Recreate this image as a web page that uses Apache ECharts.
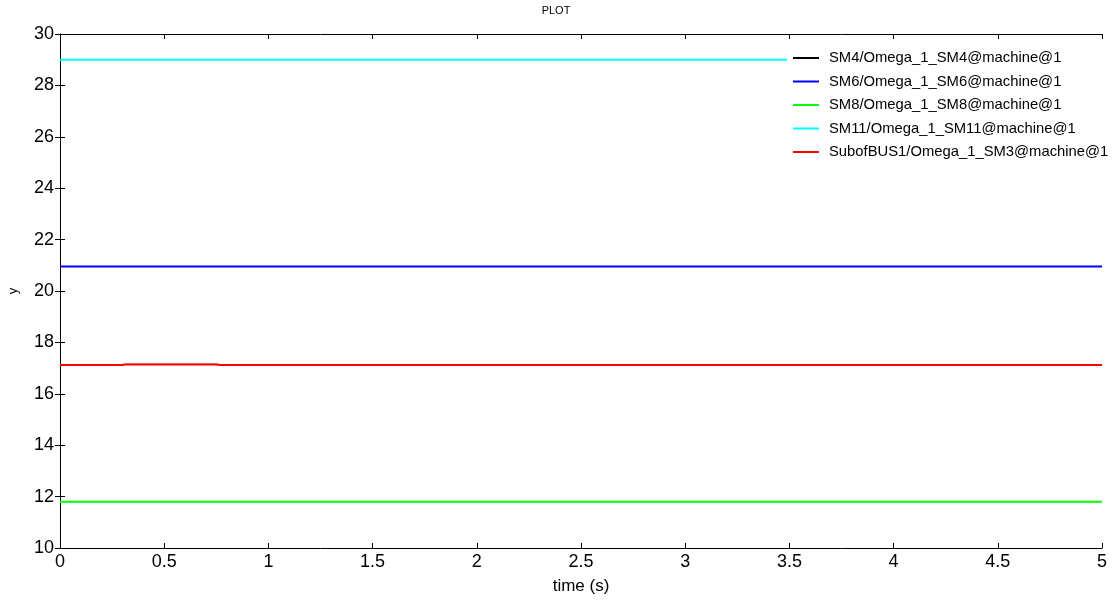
<!DOCTYPE html>
<html>
<head>
<meta charset="utf-8">
<title>PLOT</title>
<script src="https://cdn.jsdelivr.net/npm/echarts@6/dist/echarts.min.js"></script>
<style>
  html, body { margin: 0; padding: 0; background: #fff; }
  #chart { width: 1112px; height: 607px; }
</style>
</head>
<body>
<div id="chart"></div>
<script>
// series names
const seriesNames = [
    'SM4/Omega_1_SM4@machine@1',
    'SM6/Omega_1_SM6@machine@1',
    'SM8/Omega_1_SM8@machine@1',
    'SM11/Omega_1_SM11@machine@1',
    'SubofBUS1/Omega_1_SM3@machine@1'
];
const seriesColors = ['#000000', '#0000ff', '#00ff00', '#00ffff', '#ff0000'];
const seriesWidths = [1, 2, 2, 2, 2];

// time samples (s)
const time = [0, 0.2, 0.3, 0.31, 0.5, 0.75, 0.77, 1.0, 2.0, 3.0, 4.0, 5.0];

// values
const sm4 = [17.12, 17.13, 17.13, 17.15, 17.15, 17.15, 17.13, 17.13, 17.12, 17.12, 17.12, 17.12];
const sm6 = [20.95, 20.95, 20.95, 20.95, 20.95, 20.95, 20.95, 20.95, 20.95, 20.95, 20.95, 20.95];
const sm8 = [11.8, 11.8, 11.8, 11.8, 11.8, 11.8, 11.8, 11.8, 11.8, 11.8, 11.8, 11.8];
const sm11 = [29.0, 29.0, 29.0, 29.0, 29.0, 29.0, 29.0, 29.0, 29.0, 29.0, 29.0, 29.0];
const sm3 = [17.12, 17.12, 17.12, 17.14, 17.14, 17.14, 17.12, 17.12, 17.12, 17.12, 17.12, 17.12];

const allValues = [sm4, sm6, sm8, sm11, sm3];

// axis ticks
const xTicks = [0, 0.5, 1, 1.5, 2, 2.5, 3, 3.5, 4, 4.5, 5];
const yTicks = [10, 12, 14, 16, 18, 20, 22, 24, 26, 28, 30];

var chart = echarts.init(document.getElementById('chart'));

var font = 'Liberation Sans, Arial, sans-serif';

var series = seriesNames.map(function (name, i) {
    return {
        name: name,
        type: 'line',
        showSymbol: false,
        symbol: 'none',
        animation: false,
        lineStyle: { color: seriesColors[i], width: seriesWidths[i] },
        itemStyle: { color: seriesColors[i] },
        data: time.map(function (t, k) { return [t, allValues[i][k]]; })
    };
});

function xAxisDef(pos, showLabel) {
    return {
        type: 'value',
        position: pos,
        min: xTicks[0],
        max: xTicks[xTicks.length - 1],
        interval: 0.5,
        axisLine: { show: true, lineStyle: { color: '#000', width: 1 } },
        axisTick: { show: true, inside: true, length: 5, lineStyle: { color: '#000' } },
        axisLabel: { show: showLabel, color: '#000', fontSize: 18, fontFamily: font, margin: 5 },
        splitLine: { show: false },
        name: showLabel ? 'time (s)' : '',
        nameLocation: 'middle',
        nameGap: 30,
        nameTextStyle: { color: '#000', fontSize: 17, fontFamily: font }
    };
}

function yAxisDef(pos, showLabel) {
    return {
        type: 'value',
        position: pos,
        min: yTicks[0],
        max: yTicks[yTicks.length - 1],
        interval: 2,
        axisLine: { show: true, lineStyle: { color: '#000', width: 1 } },
        axisTick: { show: true, inside: true, length: 5, lineStyle: { color: '#000' } },
        axisLabel: { show: showLabel, color: '#000', fontSize: 18, fontFamily: font, margin: 6 },
        splitLine: { show: false },
        name: showLabel ? 'y' : '',
        nameLocation: 'middle',
        nameGap: 40,
        nameTextStyle: { color: '#000', fontSize: 13, fontFamily: font }
    };
}

var option = {
    backgroundColor: '#fff',
    animation: false,
    title: {
        text: 'PLOT',
        left: 'center',
        top: 0,
        textStyle: { fontSize: 11, fontWeight: 'normal', color: '#000', fontFamily: font }
    },
    grid: { left: 60, right: 10, top: 34, bottom: 59, outerBoundsMode: 'none' },
    legend: {
        orient: 'vertical',
        left: 787,
        top: 46,
        itemWidth: 26,
        itemHeight: 2,
        itemGap: 7.5,
        padding: [4, 0, 4, 6],
        backgroundColor: '#fff',
        icon: 'rect',
        textStyle: { fontSize: 14.8, color: '#000', fontFamily: font, lineHeight: 16, padding: [0, 0, 0, 5] },
        data: seriesNames
    },
    xAxis: [xAxisDef('bottom', true), xAxisDef('top', false)],
    yAxis: [yAxisDef('left', true), yAxisDef('right', false)],
    series: series
};

chart.setOption(option);

window.addEventListener('resize', function () {
    chart.resize();
});
</script>
</body>
</html>
